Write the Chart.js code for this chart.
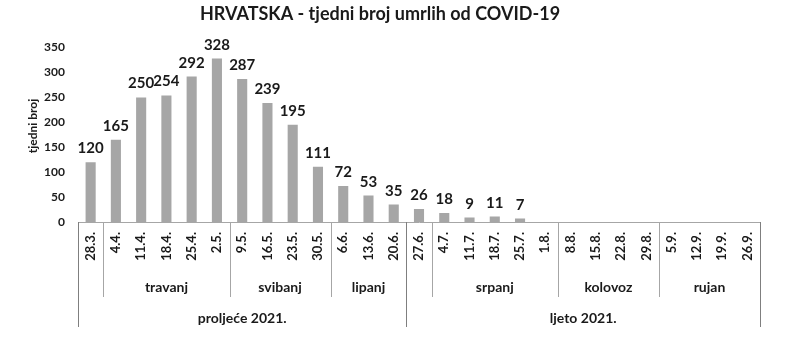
<!DOCTYPE html>
<html>
<head>
<meta charset="utf-8">
<script src="https://cdn.jsdelivr.net/npm/chart.js@4"></script>
<style>
  html, body { margin: 0; padding: 0; background: #fff; }
  #wrap { width: 800px; height: 359px; }
</style>
</head>
<body>
<div id="wrap"><canvas id="c" width="800" height="359"></canvas></div>
<script>
const weeks = ['28.3.','4.4.','11.4.','18.4.','25.4.','2.5.','9.5.','16.5.','23.5.','30.5.','6.6.','13.6.','20.6.','27.6.','4.7.','11.7.','18.7.','25.7.','1.8.','8.8.','15.8.','22.8.','29.8.','5.9.','12.9.','19.9.','26.9.'];
const deaths = [120,165,250,254,292,328,287,239,195,111,72,53,35,26,18,9,11,7,null,null,null,null,null,null,null,null,null];
const monthLabels = ['', 'travanj', 'svibanj', 'lipanj', '', 'srpanj', 'kolovoz', 'rujan'];
const monthSpans = [1, 5, 4, 3, 1, 5, 4, 4];
const seasonLabels = ['proljeće 2021.', 'ljeto 2021.'];
const seasonSpans = [13, 14];
const yTicks = [0, 50, 100, 150, 200, 250, 300, 350];
const chartTitle = 'HRVATSKA - tjedni broj umrlih od COVID-19';
const yTitle = 'tjedni broj';

const FONT = 'Lato, "Open Sans", sans-serif';
const TEXT = '#1a1a1a';

const overlay = {
  id: 'overlay',
  afterDraw(chart) {
    const ctx = chart.ctx;
    const area = chart.chartArea;
    const n = weeks.length;
    const w = (area.right - area.left) / n;
    const edge = i => area.left + i * w;
    const axisY = area.bottom;
    const monthBottom = axisY + 75;
    const seasonBottom = axisY + 105;
    ctx.save();
    ctx.lineWidth = 1;
    ctx.strokeStyle = '#a6a6a6';
    let idx = 0;
    const monthEdges = [0];
    monthSpans.forEach(s => { idx += s; monthEdges.push(idx); });
    monthEdges.forEach(e => {
      const x = Math.round(edge(e)) + 0.5;
      ctx.beginPath(); ctx.moveTo(x, axisY); ctx.lineTo(x, monthBottom); ctx.stroke();
    });
    ctx.strokeStyle = '#7f7f7f';
    idx = 0;
    const seasonEdges = [0];
    seasonSpans.forEach(s => { idx += s; seasonEdges.push(idx); });
    seasonEdges.forEach(e => {
      const x = Math.round(edge(e)) + 0.5;
      ctx.beginPath(); ctx.moveTo(x, axisY); ctx.lineTo(x, seasonBottom); ctx.stroke();
    });
    ctx.fillStyle = TEXT;
    ctx.textAlign = 'center';
    ctx.textBaseline = 'middle';
    ctx.font = 'bold 14px ' + FONT;
    monthLabels.forEach((m, i) => {
      if (!m) return;
      const cx = (edge(monthEdges[i]) + edge(monthEdges[i + 1])) / 2;
      ctx.fillText(m, cx, axisY + 65);
    });
    seasonLabels.forEach((s, i) => {
      const cx = (edge(seasonEdges[i]) + edge(seasonEdges[i + 1])) / 2;
      ctx.fillText(s, cx, axisY + 96);
    });
    ctx.font = 'bold 15px ' + FONT;
    ctx.textBaseline = 'alphabetic';
    const meta = chart.getDatasetMeta(0);
    meta.data.forEach((bar, i) => {
      const v = deaths[i];
      if (v === null || v === undefined) return;
      ctx.fillText(String(v), bar.x, bar.y - 9);
    });
    ctx.font = 'bold 12px ' + FONT;
    ctx.translate(33, 126);
    ctx.rotate(-Math.PI / 2);
    ctx.textBaseline = 'middle';
    ctx.fillText(yTitle, 0, 0);
    ctx.restore();
  }
};

new Chart(document.getElementById('c'), {
  type: 'bar',
  data: {
    labels: weeks,
    datasets: [{
      data: deaths,
      backgroundColor: '#a6a6a6',
      barPercentage: 0.4,
      categoryPercentage: 1.0
    }]
  },
  options: {
    responsive: false,
    animation: false,
    devicePixelRatio: 1,
    layout: { padding: { left: 0, right: 40, top: 0, bottom: 32 } },
    plugins: {
      legend: { display: false },
      tooltip: { enabled: false },
      title: {
        display: true,
        text: chartTitle,
        color: TEXT,
        font: { family: FONT, size: 18, weight: 'bold' },
        padding: { top: 3, bottom: 23 }
      }
    },
    scales: {
      x: {
        grid: { display: false, drawTicks: false },
        border: { display: true, color: '#a6a6a6' },
        ticks: {
          autoSkip: false,
          minRotation: 90,
          maxRotation: 90,
          padding: 10,
          color: TEXT,
          font: { family: FONT, size: 13, weight: 'bold' }
        },
        afterFit(scale) { scale.height = 105; }
      },
      y: {
        min: 0,
        max: 350,
        afterBuildTicks(scale) { scale.ticks = yTicks.map(v => ({ value: v })); },
        grid: { display: false, drawTicks: false },
        border: { display: false },
        ticks: {
          padding: 13,
          color: TEXT,
          font: { family: FONT, size: 12, weight: 'bold' }
        },
        afterFit(scale) { scale.width = 78; }
      }
    }
  },
  plugins: [overlay]
});
</script>
</body>
</html>
